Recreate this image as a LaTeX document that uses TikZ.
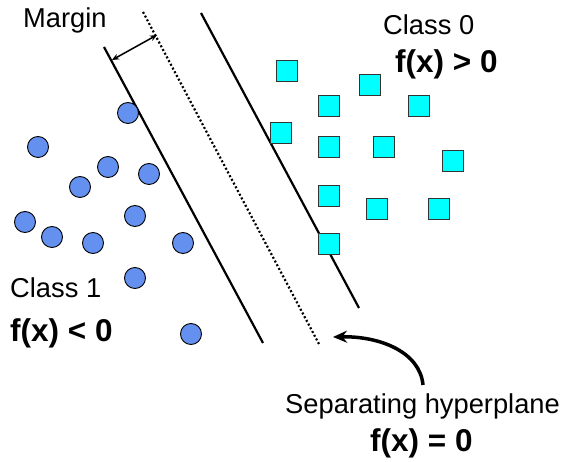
\documentclass[tikz,border=0pt]{standalone}
\usepackage{fontspec}
\setmainfont{Liberation Sans}
\usetikzlibrary{arrows.meta}
\definecolor{ptblue}{RGB}{100,145,240}
\definecolor{sqcyan}{RGB}{0,255,255}
\tikzset{
  pt/.style={circle,draw=black,line width=0.9pt,fill=ptblue,minimum size=21pt,inner sep=0pt},
  sq/.style={rectangle,draw=black!80,line width=0.9pt,fill=sqcyan,minimum size=21pt,inner sep=0pt},
  lbl/.style={anchor=base west,inner sep=0pt,font=\fontsize{27.3}{30}\selectfont},
  blbl/.style={anchor=base west,inner sep=0pt,font=\fontsize{31.5}{34}\selectfont\bfseries},
  hline/.style={line width=2.2pt},
}
\begin{document}
\begin{tikzpicture}[x=1pt,y=-1pt]
\useasboundingbox (0,0) rectangle (563,462);
% lines
\coordinate (l1a) at (104,47);
\coordinate (l1b) at (263,343);
\coordinate (l2a) at (143,12);
\coordinate (l2b) at (319,344);
\coordinate (l3a) at (201,13);
\coordinate (l3b) at (359,308);
\draw[hline] (l1a) -- (l1b);
\draw[hline] (l3a) -- (l3b);
\draw[line width=2.2pt,dash pattern=on 2pt off 2.2pt] (l2a) -- (l2b);
% margin arrow
\coordinate (ma) at (112,60);
\coordinate (mb) at (157,35);
\draw[line width=1.5pt,{Stealth[length=7pt,width=6pt]}-{Stealth[length=7pt,width=6pt]}] (ma) -- (mb);
% circles
\foreach \i/\x/\y in {1/128/113,2/38/147,3/108/167,4/149/174,5/80/187,6/25/222,7/52/237,8/93/243,9/135/216,10/183/243,11/135/278,12/191/334}
  \node[pt] (c\i) at (\x,\y) {};
% squares
\foreach \i/\x/\y in {1/287/71,2/370/85,3/329/106,4/419/106,5/281/133,6/329/147,7/384/147,8/453/161,9/329/196,10/377/209,11/439/209,12/329/244}
  \node[sq] (s\i) at (\x,\y) {};
% texts
\node[lbl] (margin) at (23,28) {Margin};
\node[lbl] (class0) at (383,35) {Class 0};
\node[blbl] (fpos) at (395,73) {f(x) > 0};
\node[lbl] (class1) at (10,298) {Class 1};
\node[blbl] (fneg) at (10,342) {f(x) < 0};
\node[lbl] (sep) at (285,414) {Separating hyperplane};
\node[blbl] (fzero) at (370,452) {f(x) = 0};
% curved arrow
\coordinate (atail) at (423,385);
\coordinate (ahead) at (333,337);
\draw[line width=3.5pt,-{Stealth[length=14pt,width=12pt]}] (atail) .. controls (420,352) and (380,336) .. (ahead);
\end{tikzpicture}
\end{document}
